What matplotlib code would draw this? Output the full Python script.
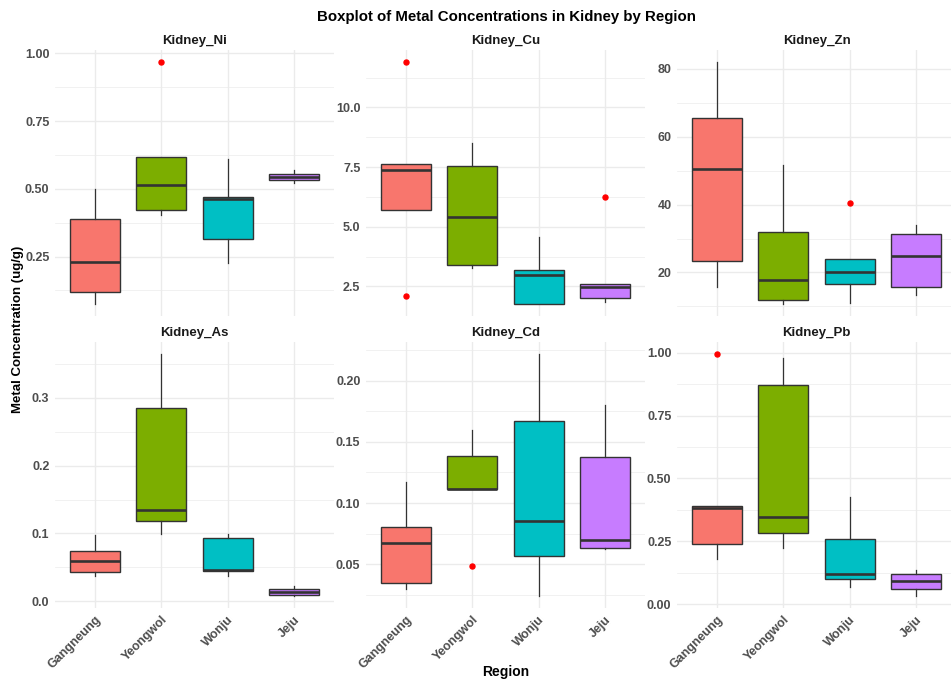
import numpy as np
import matplotlib
matplotlib.use("Agg")
from matplotlib import pyplot as plt

plt.rcParams['font.family'] = ['Liberation Sans', 'DejaVu Sans']

metals = ["Kidney_Ni", "Kidney_Cu", "Kidney_Zn", "Kidney_As", "Kidney_Cd", "Kidney_Pb"]
regions = ["Gangneung", "Yeongwol", "Wonju", "Jeju"]
region_colors = ["#F8766D", "#7CAE00", "#00BFC4", "#C77CFF"]

# box statistics per metal (rows) and region (columns)
whisker_low = [
    [0.075, 0.403, 0.225, 0.521],
    [5.70, 3.28, 1.77, 1.84],
    [15.85, 10.75, 11.14, 13.30],
    [0.0377, 0.0995, 0.0373, 0.0078],
    [0.0302, 0.1113, 0.0242, 0.0627],
    [0.180, 0.225, 0.070, 0.033],
]
q1 = [
    [0.118, 0.421, 0.313, 0.533],
    [5.70, 3.39, 1.77, 2.01],
    [23.32, 11.93, 16.74, 15.66],
    [0.0426, 0.1181, 0.0451, 0.0098],
    [0.0350, 0.1113, 0.0570, 0.0635],
    [0.238, 0.282, 0.1005, 0.061],
]
median = [
    [0.228, 0.515, 0.462, 0.545],
    [7.36, 5.42, 3.00, 2.46],
    [50.43, 17.82, 20.28, 24.99],
    [0.0598, 0.1343, 0.0466, 0.0137],
    [0.0671, 0.1118, 0.0852, 0.0698],
    [0.382, 0.347, 0.119, 0.0926],
]
q3 = [
    [0.388, 0.617, 0.468, 0.555],
    [7.64, 7.56, 3.20, 2.61],
    [65.56, 31.96, 23.91, 31.47],
    [0.0735, 0.2858, 0.0931, 0.0176],
    [0.0804, 0.1384, 0.1674, 0.1379],
    [0.390, 0.873, 0.259, 0.120],
]
whisker_high = [
    [0.499, 0.617, 0.610, 0.568],
    [7.64, 8.51, 4.59, 2.61],
    [81.96, 51.71, 23.91, 34.13],
    [0.098, 0.3647, 0.0985, 0.0225],
    [0.117, 0.1601, 0.2217, 0.1802],
    [0.390, 0.980, 0.425, 0.136],
]
outliers = [
    [[], [0.968], [], []],
    [[11.90, 2.12], [], [], [6.23]],
    [[], [], [40.61], []],
    [[], [], [], []],
    [[], [0.0486], [], []],
    [[0.9947], [], [], []],
]

y_breaks = [
    [0.25, 0.50, 0.75, 1.00],
    [2.5, 5.0, 7.5, 10.0],
    [20, 40, 60, 80],
    [0.0, 0.1, 0.2, 0.3],
    [0.05, 0.10, 0.15, 0.20],
    [0.00, 0.25, 0.50, 0.75, 1.00],
]
y_decimals = [2, 1, 0, 1, 2, 2]

W, H = 951, 682
fig = plt.figure(figsize=(W / 100, H / 100), dpi=100)

col_left = [55, 366, 677]
row_top = [50, 342]
panel_w, panel_h = 279, 266

grid_col = "#EBEBEB"
text_col = "#4D4D4D"
line_col = "#333333"

for k, metal in enumerate(metals):
    r, c = divmod(k, 3)
    ax = fig.add_axes([col_left[c] / W, 1 - (row_top[r] + panel_h) / H, panel_w / W, panel_h / H])

    stats = []
    for j in range(len(regions)):
        stats.append({
            'whislo': whisker_low[k][j], 'q1': q1[k][j], 'med': median[k][j],
            'q3': q3[k][j], 'whishi': whisker_high[k][j], 'fliers': outliers[k][j],
        })
    bp = ax.bxp(stats, positions=np.arange(1, 5), widths=0.75, patch_artist=True,
                showcaps=False, zorder=3,
                boxprops=dict(edgecolor=line_col, linewidth=1.0),
                whiskerprops=dict(color=line_col, linewidth=0.9),
                medianprops=dict(color=line_col, linewidth=1.9),
                flierprops=dict(marker='o', markerfacecolor='red', markeredgecolor='red',
                                markersize=3.6))
    for patch, col in zip(bp['boxes'], region_colors):
        patch.set_facecolor(col)

    # y range as ggplot: data extent plus 5% each side
    vals = whisker_low[k] + whisker_high[k] + [v for o in outliers[k] for v in o]
    lo, hi = min(vals), max(vals)
    pad = (hi - lo) * 0.05
    ax.set_ylim(lo - pad, hi + pad)
    ax.set_xlim(0.4, 4.6)

    brk = y_breaks[k]
    step = brk[1] - brk[0]
    ax.set_yticks(brk)
    ax.set_yticklabels([f"{b:.{y_decimals[k]}f}" for b in brk])
    minors = np.arange(brk[0] - step * 1.5, brk[-1] + step * 2, step)
    ax.set_yticks([m for m in minors if lo - pad <= m <= hi + pad], minor=True)

    ax.set_xticks(np.arange(1, 5))
    if r == 1:
        ax.set_xticklabels(regions, rotation=45, ha='right', va='top', rotation_mode='anchor')
    else:
        ax.set_xticklabels([])

    ax.grid(which='major', color=grid_col, linewidth=1.0)
    ax.grid(which='minor', axis='y', color=grid_col, linewidth=0.5)
    ax.set_axisbelow(True)
    for s in ax.spines.values():
        s.set_visible(False)
    ax.tick_params(which='both', length=0, pad=4, labelsize=9, labelcolor=text_col)
    for lab in ax.get_xticklabels() + ax.get_yticklabels():
        lab.set_fontweight('bold')

    ax.text(0.5, 1 + 9 / panel_h, metal, transform=ax.transAxes, ha='center', va='center',
            fontsize=9.5, fontweight='bold', color='#1A1A1A')

fig.text(506 / W, 1 - 17 / H, "Boxplot of Metal Concentrations in Kidney by Region",
         ha='center', va='center', fontsize=10.8, fontweight='bold')
fig.text(18 / W, 1 - 329 / H, "Metal Concentration (ug/g)", rotation=90,
         ha='center', va='center', fontsize=9.5, fontweight='bold')
fig.text(506 / W, 1 - 672 / H, "Region", ha='center', va='center',
         fontsize=10, fontweight='bold')

fig.savefig("out.png", dpi=100)
